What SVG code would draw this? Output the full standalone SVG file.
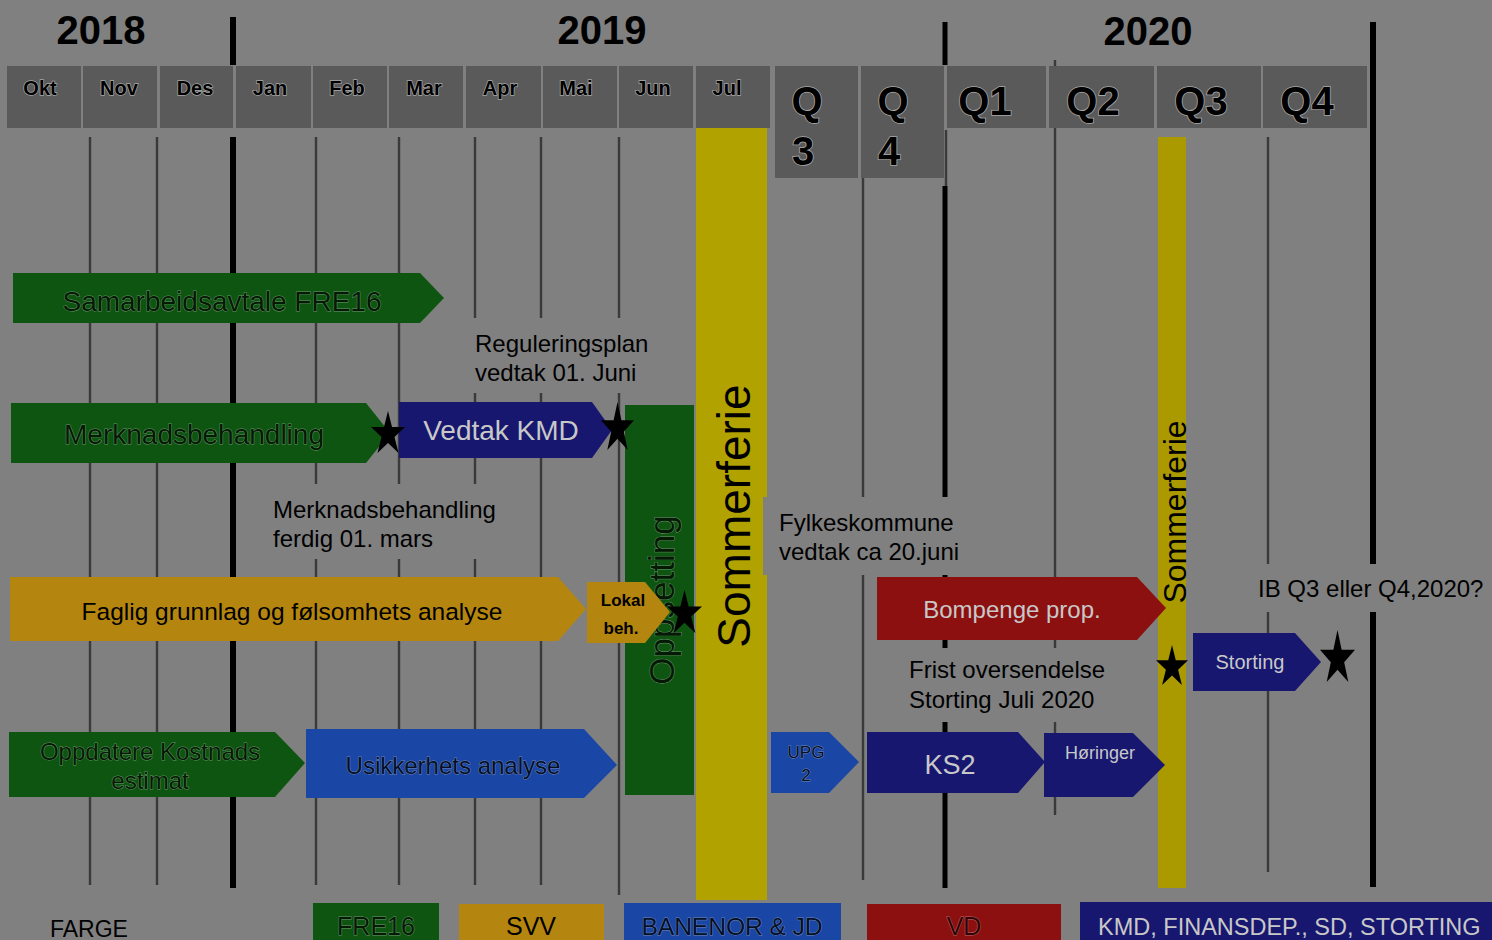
<svg xmlns="http://www.w3.org/2000/svg" xmlns:xlink="http://www.w3.org/1999/xlink" width="1492" height="940" viewBox="0 0 1492 940">
<defs>
<style>
text{font-family:"Liberation Sans",Arial,sans-serif}
.yr{font-size:40px;font-weight:bold;fill:#000;text-anchor:middle}
.mo{font-size:20px;font-weight:bold;fill:#000;stroke:#a8a8a8;stroke-width:1.4;paint-order:stroke;text-anchor:middle}
.qt{font-size:40px;font-weight:bold;fill:#000;stroke:#a8a8a8;stroke-width:1.6;paint-order:stroke;text-anchor:middle}
.hdr{fill:#5a5a5a}
.thin{stroke:#3a3a3a;stroke-width:2.4}
.thick{stroke:#000;stroke-width:6}
.grn{fill:#0d5511}
.dbl{fill:#17176f}
.mbl{fill:#1a46a6}
.red{fill:#8c1010}
.org{fill:#b5860f}
.yel{fill:#b2a200}
.bgbox{fill:#808080}
.note{font-size:24px;fill:#000}
.outg{fill:#041a04;stroke:#6f956f;stroke-width:0.9;paint-order:stroke;text-anchor:middle}
.outb{fill:#03102a;stroke:#7688b0;stroke-width:0.9;paint-order:stroke;text-anchor:middle}
.outr{fill:#300404;stroke:#b86a6a;stroke-width:0.9;paint-order:stroke;text-anchor:middle}
.lt{fill:#c8c8c8;text-anchor:middle}
.blk{fill:#000;text-anchor:middle}
</style>
<symbol id="star" viewBox="-0.951 -1 1.902 1.809" preserveAspectRatio="none">
<path d="M0,-1 L0.2245,-0.309 L0.951,-0.309 L0.363,0.118 L0.588,0.809 L0,0.382 L-0.588,0.809 L-0.363,0.118 L-0.951,-0.309 L-0.2245,-0.309 Z" fill="#000"/>
</symbol>
</defs>
<rect width="1492" height="940" fill="#808080"/>

<g id="years">
<text class="yr" x="101" y="44">2018</text>
<text class="yr" x="602" y="44">2019</text>
<text class="yr" x="1148" y="45">2020</text>
</g>

<g id="header">
<rect class="hdr" x="7" y="66" width="74" height="62"/>
<rect class="hdr" x="83" y="66" width="74" height="62"/>
<rect class="hdr" x="160" y="66" width="73" height="62"/>
<rect class="hdr" x="236" y="66" width="75" height="62"/>
<rect class="hdr" x="313" y="66" width="74" height="62"/>
<rect class="hdr" x="389" y="66" width="74" height="62"/>
<rect class="hdr" x="466" y="66" width="75" height="62"/>
<rect class="hdr" x="543" y="66" width="74" height="62"/>
<rect class="hdr" x="619" y="66" width="74" height="62"/>
<rect class="hdr" x="696" y="66" width="74" height="62"/>
<rect class="hdr" x="775" y="66" width="83" height="112"/>
<rect class="hdr" x="861" y="66" width="83" height="112"/>
<rect class="hdr" x="947" y="66" width="99" height="62"/>
<rect class="hdr" x="1049" y="66" width="105" height="62"/>
<rect class="hdr" x="1157" y="66" width="104" height="62"/>
<rect class="hdr" x="1263" y="66" width="104" height="62"/>
<text class="mo" x="40" y="95">Okt</text>
<text class="mo" x="119" y="95">Nov</text>
<text class="mo" x="195" y="95">Des</text>
<text class="mo" x="270" y="95">Jan</text>
<text class="mo" x="347" y="95">Feb</text>
<text class="mo" x="424" y="95">Mar</text>
<text class="mo" x="500" y="95">Apr</text>
<text class="mo" x="576" y="95">Mai</text>
<text class="mo" x="653" y="95">Jun</text>
<text class="mo" x="727" y="95">Jul</text>
<text class="qt" x="807" y="115">Q</text>
<text class="qt" x="803" y="165">3</text>
<text class="qt" x="893" y="115">Q</text>
<text class="qt" x="889" y="165">4</text>
<text class="qt" x="985" y="115">Q1</text>
<text class="qt" x="1093" y="115">Q2</text>
<text class="qt" x="1201" y="115">Q3</text>
<text class="qt" x="1307" y="115">Q4</text>
</g>

<g id="gridlines">
<line class="thin" x1="90" y1="137" x2="90" y2="885"/>
<line class="thin" x1="157" y1="137" x2="157" y2="885"/>
<line class="thick" x1="233" y1="17" x2="233" y2="65"/>
<line class="thick" x1="233" y1="137" x2="233" y2="888"/>
<line class="thin" x1="316" y1="137" x2="316" y2="885"/>
<line class="thin" x1="399" y1="137" x2="399" y2="885"/>
<line class="thin" x1="475" y1="137" x2="475" y2="885"/>
<line class="thin" x1="541" y1="137" x2="541" y2="885"/>
<line class="thin" x1="619" y1="137" x2="619" y2="895"/>
<line class="thin" x1="863" y1="178" x2="863" y2="880"/>
<line x1="945" y1="22" x2="945" y2="65" stroke="#000" stroke-width="5"/>
<line class="thin" x1="946" y1="130" x2="946" y2="186"/>
<line x1="945" y1="186" x2="945" y2="888" stroke="#000" stroke-width="5"/>
<line class="thin" x1="1055" y1="60" x2="1055" y2="66"/>
<line class="thin" x1="1055" y1="128" x2="1055" y2="815"/>
<line class="thin" x1="1268" y1="137" x2="1268" y2="872"/>
<line class="thick" x1="1373" y1="22" x2="1373" y2="887"/>
</g>

<g id="sommerferie2019">
<rect class="yel" x="696" y="128" width="71" height="772"/>
<text transform="translate(750,516) rotate(-90)" class="blk" font-size="46">Sommerferie</text>
</g>

<g id="sommerferie2020">
<rect x="1158" y="137" width="28" height="751" fill="#aa9a00"/>
<text transform="translate(1186,512) rotate(-90)" class="blk" font-size="32">Sommerferie</text>
</g>

<g id="notes">
<rect class="bgbox" x="468" y="318" width="192" height="75"/>
<text class="note" x="475" y="352">Reguleringsplan</text>
<text class="note" x="475" y="381">vedtak 01. Juni</text>
<rect class="bgbox" x="268" y="484" width="240" height="75"/>
<text class="note" x="273" y="518">Merknadsbehandling</text>
<text class="note" x="273" y="547">ferdig 01. mars</text>
<rect class="bgbox" x="763" y="497" width="208" height="78"/>
<text class="note" x="779" y="531">Fylkeskommune</text>
<text class="note" x="779" y="560">vedtak ca 20.juni</text>
<rect class="bgbox" x="1250" y="564" width="242" height="48"/>
<text class="note" x="1258" y="597">IB Q3 eller Q4,2020?</text>
<rect class="bgbox" x="902" y="648" width="205" height="74"/>
<text class="note" x="909" y="678">Frist oversendelse</text>
<text class="note" x="909" y="708">Storting Juli 2020</text>
</g>

<g id="samarbeid">
<polygon class="grn" points="13,273 420,273 444,298 420,323 13,323"/>
<text class="outg" x="222" y="311" font-size="28">Samarbeidsavtale FRE16</text>
</g>

<g id="merknad">
<polygon class="grn" points="11,403 366,403 390,433 366,463 11,463"/>
<text class="outg" x="194" y="444" font-size="28">Merknadsbehandling</text>
</g>

<g id="vedtak">
<polygon class="dbl" points="399,402 592,402 612,430 592,458 399,458"/>
<text class="lt" x="501" y="440" font-size="28">Vedtak KMD</text>
</g>

<g id="oppsetting">
<rect class="grn" x="625" y="405" width="69" height="390"/>
<text transform="translate(674,600) rotate(-90)" class="outg" font-size="35">Oppsetting</text>
</g>

<g id="faglig">
<polygon class="org" points="10,577 558,577 586,609 558,641 10,641"/>
<text class="blk" x="292" y="620" font-size="24.5">Faglig grunnlag og følsomhets analyse</text>
</g>

<g id="lokal">
<polygon class="org" points="587,582 645,582 670,612 645,643 587,643"/>
<text class="blk" x="623" y="606" font-size="17" font-weight="bold">Lokal</text>
<text class="blk" x="621" y="634" font-size="17" font-weight="bold">beh.</text>
</g>

<g id="bompenge">
<polygon class="red" points="877,577 1137,577 1166,608 1137,640 877,640"/>
<text class="lt" x="1012" y="618" font-size="24">Bompenge prop.</text>
</g>

<g id="storting">
<polygon class="dbl" points="1193,633 1295,633 1321,662 1295,691 1193,691"/>
<text class="lt" x="1250" y="669" font-size="20">Storting</text>
</g>

<g id="oppdatere">
<polygon class="grn" points="9,732 275,732 305,763 275,797 9,797"/>
<text class="outg" x="150" y="760" font-size="24">Oppdatere Kostnads</text>
<text class="outg" x="150" y="789" font-size="24">estimat</text>
</g>

<g id="usikkerhet">
<polygon class="mbl" points="306,729 584,729 617,765 584,798 306,798"/>
<text class="outb" x="453" y="774" font-size="24">Usikkerhets analyse</text>
</g>

<g id="upg2">
<polygon class="mbl" points="771,732 829,732 859,762 829,793 771,793"/>
<text class="outb" x="806" y="758" font-size="17">UPG</text>
<text class="outb" x="806" y="781" font-size="17">2</text>
</g>

<g id="ks2">
<polygon class="dbl" points="867,732 1018,732 1045,762 1018,793 867,793"/>
<text class="lt" x="950" y="774" font-size="27">KS2</text>
</g>

<g id="horinger">
<polygon class="dbl" points="1044,733 1133,733 1165,765 1133,797 1044,797"/>
<text class="lt" x="1100" y="759" font-size="18">Høringer</text>
</g>

<g id="milestones">
<use xlink:href="#star" href="#star" x="371" y="411" width="34" height="42"/>
<use xlink:href="#star" href="#star" x="601" y="402" width="33" height="48"/>
<use xlink:href="#star" href="#star" x="667" y="590" width="35" height="43"/>
<use xlink:href="#star" href="#star" x="1156" y="645" width="32" height="40"/>
<use xlink:href="#star" href="#star" x="1320" y="630" width="35" height="52"/>
</g>

<g id="legend">
<text x="50" y="937" font-size="23" fill="#000">FARGE</text>
<rect class="grn" x="313" y="903" width="126" height="40"/>
<text class="outg" x="376" y="935" font-size="25">FRE16</text>
<rect class="org" x="459" y="904" width="145" height="40"/>
<text class="blk" x="531" y="935" font-size="25">SVV</text>
<rect class="mbl" x="624" y="903" width="217" height="40"/>
<text class="outb" x="732" y="935" font-size="24.5">BANENOR &amp; JD</text>
<rect class="red" x="867" y="904" width="194" height="40"/>
<text class="outr" x="964" y="935" font-size="25">VD</text>
<rect class="dbl" x="1080" y="902" width="420" height="42"/>
<text x="1098" y="935" font-size="23.5" fill="#c8c8c8">KMD, FINANSDEP., SD, STORTING</text>
</g>
</svg>
